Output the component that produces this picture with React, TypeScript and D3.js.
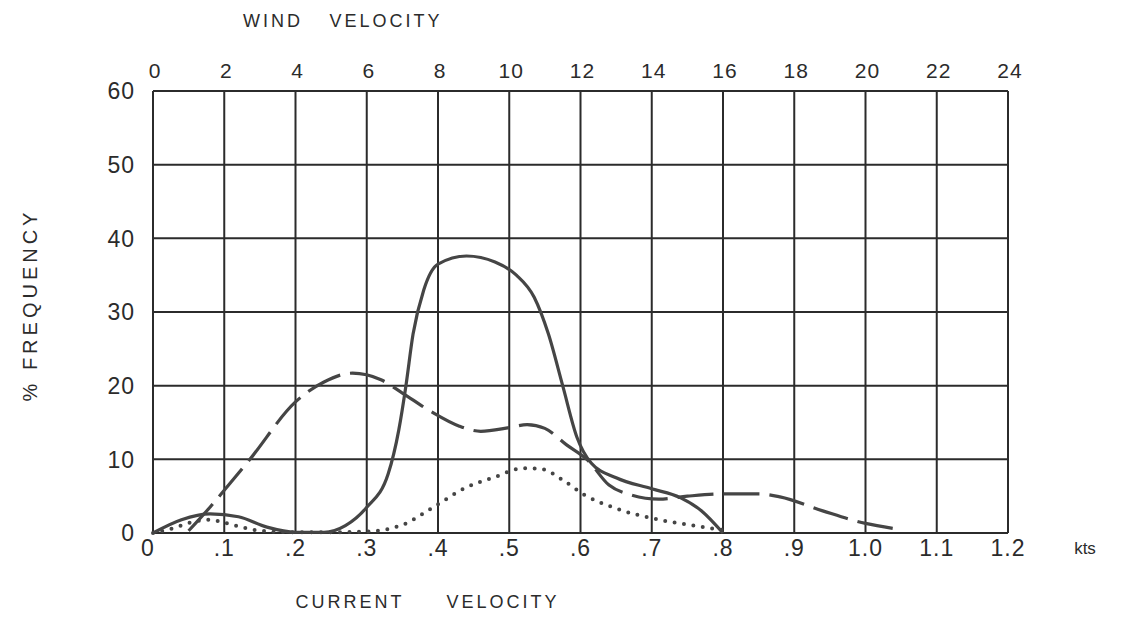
import React from "react";
import * as d3 from "d3";

const currentTicks = [0, 0.1, 0.2, 0.3, 0.4, 0.5, 0.6, 0.7, 0.8, 0.9, 1.0, 1.1, 1.2];
const currentTickLabels = ["0", ".1", ".2", ".3", ".4", ".5", ".6", ".7", ".8", ".9", "1.0", "1.1", "1.2"];
const windTickLabels = ["0", "2", "4", "6", "8", "10", "12", "14", "16", "18", "20", "22", "24"];
const freqTicks = [0, 10, 20, 30, 40, 50, 60];

// solid curve
const solidX = [0, 0.04, 0.08, 0.12, 0.16, 0.2, 0.24, 0.27, 0.3, 0.33, 0.345, 0.355, 0.365, 0.38, 0.4, 0.44, 0.48, 0.51, 0.535, 0.555, 0.575, 0.595, 0.615, 0.65, 0.7, 0.74, 0.77, 0.8];
const solidY = [0, 1.8, 2.6, 2.2, 0.8, 0.1, 0.1, 1, 3.5, 8, 14, 20, 27, 33, 36.5, 37.6, 36.8, 35, 32, 27, 20, 13, 9.5, 7.5, 6, 4.8, 3, 0];

// long-dashed curve
const dashX = [0.05, 0.08, 0.1, 0.136, 0.2, 0.24, 0.28, 0.32, 0.35, 0.39, 0.43, 0.46, 0.5, 0.525, 0.55, 0.58, 0.61, 0.64, 0.67, 0.71, 0.75, 0.8, 0.85, 0.88, 0.94, 1.0, 1.04];
const dashY = [0.3, 3.5, 5.8, 10, 17.8, 20.5, 21.7, 20.8, 19, 16.5, 14.5, 13.8, 14.3, 14.7, 14.2, 12, 9.9, 6.5, 5.2, 4.6, 5, 5.3, 5.3, 4.9, 3, 1.3, 0.6];

// dotted curve
const dotX = [0, 0.03, 0.055, 0.08, 0.1, 0.125, 0.15, 0.2, 0.25, 0.3, 0.35, 0.39, 0.44, 0.48, 0.52, 0.545, 0.575, 0.605, 0.645, 0.71, 0.76, 0.8];
const dotY = [0, 0.7, 1.5, 1.8, 1.4, 0.8, 0.3, 0.1, 0.1, 0.2, 1.1, 3.3, 6.2, 7.6, 8.8, 8.7, 7.2, 5.2, 3.5, 1.8, 1.0, 0.4];

const W = 1133;
const H = 620;
const FONT = "'Liberation Sans', 'DejaVu Sans', sans-serif";

export default function App() {
  const x = d3.scaleLinear().domain([0, 1.2]).range([153, 1008]);
  const y = d3.scaleLinear().domain([0, 60]).range([533, 91]);

  const line = d3
    .line<[number, number]>()
    .x((d) => x(d[0]))
    .y((d) => y(d[1]))
    .curve(d3.curveMonotoneX);

  const zip = (a: number[], b: number[]) => a.map((v, i) => [v, b[i]] as [number, number]);

  const ink = "#2b2b2b";
  const curveInk = "#454545";

  return (
    <svg
      width={W}
      height={H}
      style={{ position: "absolute", left: 0, top: 0, background: "#fff" }}
      fontFamily={FONT}
    >
      <rect x={0} y={0} width={W} height={H} fill="#fff" />
      {/* grid */}
      {currentTicks.map((t, i) => (
        <line key={"v" + i} x1={x(t)} x2={x(t)} y1={y(0)} y2={y(60)} stroke={ink} strokeWidth={2} />
      ))}
      {freqTicks.map((t, i) => (
        <line key={"h" + i} x1={x(0)} x2={x(1.2)} y1={y(t)} y2={y(t)} stroke={ink} strokeWidth={2} />
      ))}

      {/* curves */}
      <path d={line(zip(solidX, solidY)) || ""} fill="none" stroke={curveInk} strokeWidth={3.2} strokeLinejoin="round" />
      <path d={line(zip(dashX, dashY)) || ""} fill="none" stroke={curveInk} strokeWidth={3.2} strokeDasharray="36 10" />
      <path d={line(zip(dotX, dotY)) || ""} fill="none" stroke={curveInk} strokeWidth={4} strokeLinecap="round" strokeDasharray="0 9.5" />

      {/* left tick labels */}
      {freqTicks.map((t, i) => (
        <text key={"yl" + i} x={135} y={y(t)} dy="0.36em" textAnchor="end" fontSize={23} fill={ink} letterSpacing={1}>
          {t}
        </text>
      ))}
      {/* bottom tick labels */}
      {currentTicks.map((t, i) => (
        <text key={"bl" + i} x={x(t) - (i === 0 ? 5 : 0)} y={556} textAnchor="middle" fontSize={23} fill={ink} letterSpacing={1}>
          {currentTickLabels[i]}
        </text>
      ))}
      {/* top tick labels */}
      {currentTicks.map((t, i) => (
        <text key={"tl" + i} x={x(t) + 2} y={78} textAnchor="middle" fontSize={21} fill={ink} letterSpacing={1}>
          {windTickLabels[i]}
        </text>
      ))}
      <text x={1085} y={554} textAnchor="middle" fontSize={17} fill={ink}>
        kts
      </text>

      {/* titles */}
      <text x={273} y={27} textAnchor="middle" fontSize={18} fill={ink} letterSpacing={3}>
        WIND
      </text>
      <text x={386} y={27} textAnchor="middle" fontSize={18} fill={ink} letterSpacing={3}>
        VELOCITY
      </text>
      <text x={350} y={608} textAnchor="middle" fontSize={18} fill={ink} letterSpacing={3}>
        CURRENT
      </text>
      <text x={503} y={608} textAnchor="middle" fontSize={18} fill={ink} letterSpacing={3}>
        VELOCITY
      </text>
      <g transform="translate(37, 305) rotate(-90)">
        <text x={0} y={0} textAnchor="middle" fontSize={20} fill={ink} letterSpacing={4}>
          {"%   FREQUENCY"}
        </text>
      </g>
    </svg>
  );
}
